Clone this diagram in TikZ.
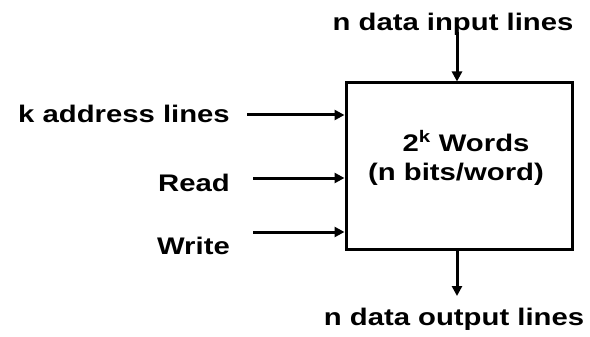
\documentclass[tikz,border=0pt]{standalone}
\usepackage{fontspec}
\setmainfont{Liberation Sans}[FakeStretch=1.22]
\usetikzlibrary{arrows.meta}
\tikzset{
  lbl/.style={inner sep=0pt, font=\fontsize{24}{28}\selectfont\bfseries},
  arr/.style={line width=3pt, -{Triangle[length=10pt,width=10pt]}},
  membox/.style={draw, line width=3pt, inner sep=0pt,
    minimum width=226pt, minimum height=166pt}
}
\begin{document}
\begin{tikzpicture}[x=1pt, y=-1pt]
  \useasboundingbox (0,0) rectangle (590,337);
  % memory unit
  \node[membox] (mem) at (459,166) {};
  \node[lbl, anchor=base] (words) at (466,152) {2\textsuperscript{k} Words};
  \node[lbl, anchor=base] (bits) at (456,180) {(n bits/word)};
  % labels
  \node[lbl, anchor=base] (din) at (453,31) {n data input lines};
  \node[lbl, anchor=base] (dout) at (454,325) {n data output lines};
  \node[lbl, anchor=base east] (addr) at (230,123) {k address lines};
  \node[lbl, anchor=base east] (rd) at (230,191) {Read};
  \node[lbl, anchor=base east] (wr) at (230,254) {Write};
  % free ends of the connectors
  \coordinate (addrin) at (247,115);
  \coordinate (rdin) at (253,178);
  \coordinate (wrin) at (253,232);
  \coordinate (datain) at (457,32);
  \coordinate (dataout) at (457,296);
  % connectors
  \draw[arr] (addrin) -- (addrin -| mem.west);
  \draw[arr] (rdin) -- (rdin -| mem.west);
  \draw[arr] (wrin) -- (wrin -| mem.west);
  \draw[arr] (datain) -- (datain |- mem.north);
  \draw[arr] (dataout |- mem.south) -- (dataout);
\end{tikzpicture}
\end{document}
